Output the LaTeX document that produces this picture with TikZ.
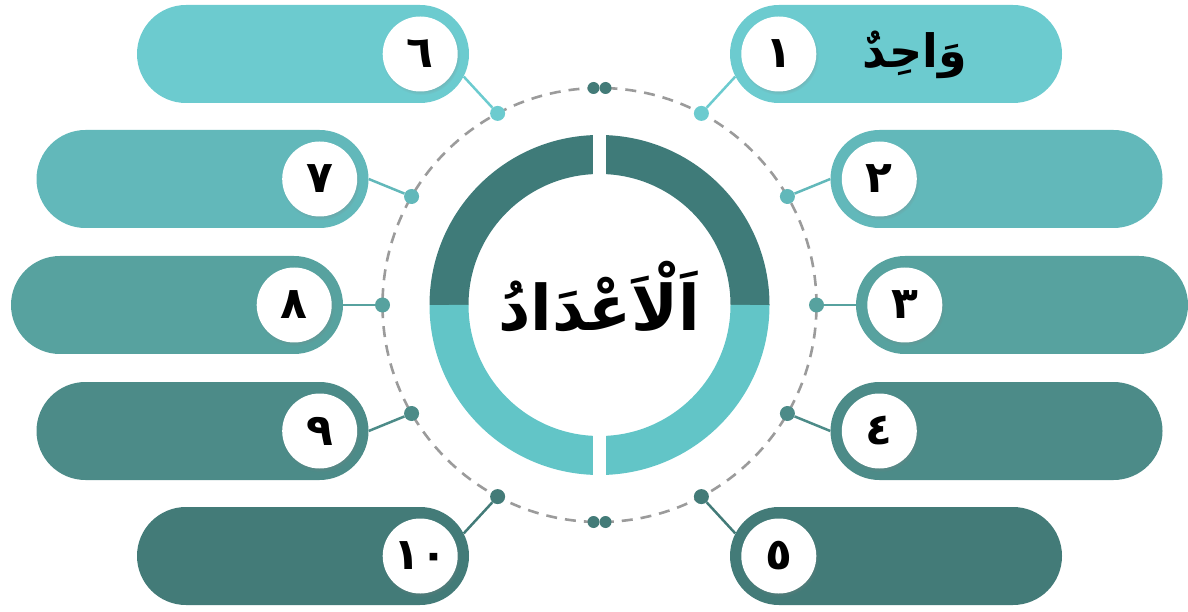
\documentclass[tikz,border=0pt]{standalone}
\usepackage{fontspec}
\usepackage{xcolor}
\usepackage{tikz}
\usetikzlibrary{shapes.misc,shadows}
\TeXXeTstate=1
\newfontfamily\arabicfont[Script=Arabic]{DejaVu Sans}
\definecolor{tealA}{HTML}{6CCBCF}
\definecolor{tealB}{HTML}{62B8BA}
\definecolor{tealC}{HTML}{57A29F}
\definecolor{tealD}{HTML}{4C8B88}
\definecolor{tealE}{HTML}{437B78}
\definecolor{ringdark}{HTML}{3F7B79}
\definecolor{ringlight}{HTML}{62C5C7}
\definecolor{dashgray}{HTML}{9B9B9B}
\tikzset{
  pill/.style={rounded rectangle,minimum width=332pt,minimum height=98pt,inner sep=0pt,fill=#1},
  numc/.style={circle,fill=white,minimum size=75pt,inner sep=0pt,font=\arabicfont\bfseries\fontsize{44}{44}\selectfont,
    circular drop shadow={shadow xshift=1pt,shadow yshift=-2pt,opacity=0.35,shadow scale=1.04}},
  dotc/.style={circle,fill=#1,minimum size=15pt,inner sep=0pt},
  link/.style={line width=2.5pt,draw=#1},
  orbit/.style={draw=dashgray,line width=2.6pt,dash pattern=on 11pt off 8pt},
  ring/.style={line width=39pt}
}
\newcommand{\artxt}[1]{{\arabicfont\bfseries\beginR #1\endR}}

\begin{document}
\begin{tikzpicture}[x=1pt,y=1pt]
\useasboundingbox (0,0) rectangle (1188,611);
\coordinate (c) at (599.5,306);
% orbit and centre ring
\draw[orbit] (c) circle[radius=217];
\draw[ring,ringdark] ([shift={(0:150.5)}]c) arc[start angle=0,end angle=180,radius=150.5];
\draw[ring,ringlight] ([shift={(180:150.5)}]c) arc[start angle=180,end angle=360,radius=150.5];
\fill[white] ([shift={(-6.5,-176)}]c) rectangle ([shift={(6.5,176)}]c);
\node (title) at ([yshift=8]c) {\fontsize{63}{66}\selectfont\artxt{اَلْاَعْدَادُ}};
\node[dotc=tealE,minimum size=12pt] (top1) at ([shift={(-6,217)}]c) {}; \node[dotc=tealE,minimum size=12pt] (top2) at ([shift={(6,217)}]c) {};
\node[dotc=tealE,minimum size=12pt] (bot1) at ([shift={(-6,-217)}]c) {}; \node[dotc=tealE,minimum size=12pt] (bot2) at ([shift={(6,-217)}]c) {};
% right side
\node[pill=tealA] (p1) at (896,557) {}; \node[numc] (n1) at ([xshift=49]p1.west) {١};
\node[pill=tealB] (p2) at (996.5,432) {}; \node[numc] (n2) at ([xshift=49]p2.west) {٢};
\node[pill=tealC] (p3) at (1022,306) {}; \node[numc] (n3) at ([xshift=49]p3.west) {٣};
\node[pill=tealD] (p4) at (996.5,180) {}; \node[numc] (n4) at ([xshift=49]p4.west) {٤};
\node[pill=tealE] (p5) at (896,55) {}; \node[numc] (n5) at ([xshift=49]p5.west) {٥};
\node (word1) at (915,556) {\fontsize{46}{48}\selectfont\artxt{وَاحِدٌ}};
% left side
\node[pill=tealA] (p6) at (303,557) {}; \node[numc] (n6) at ([xshift=-49]p6.east) {٦};
\node[pill=tealB] (p7) at (202.5,432) {}; \node[numc] (n7) at ([xshift=-49]p7.east) {٧};
\node[pill=tealC] (p8) at (177,306) {}; \node[numc] (n8) at ([xshift=-49]p8.east) {٨};
\node[pill=tealD] (p9) at (202.5,180) {}; \node[numc] (n9) at ([xshift=-49]p9.east) {٩};
\node[pill=tealE] (p10) at (303,55) {}; \node[numc] (n10) at ([xshift=-49]p10.east) {١٠};
% dots on the orbit
\node[dotc=tealA] (d1) at ([shift={(62:217)}]c) {}; \draw[link=tealA] (d1) -- (p1.188);
\node[dotc=tealB] (d2) at ([shift={(30:217)}]c) {}; \draw[link=tealB] (d2) -- (p2.west);
\node[dotc=tealC] (d3) at ([shift={(0:217)}]c) {}; \draw[link=tealC] (d3) -- (p3.west);
\node[dotc=tealD] (d4) at ([shift={(-30:217)}]c) {}; \draw[link=tealD] (d4) -- (p4.west);
\node[dotc=tealE] (d5) at ([shift={(-62:217)}]c) {}; \draw[link=tealE] (d5) -- (p5.172);
\node[dotc=tealA] (d6) at ([shift={(118:217)}]c) {}; \draw[link=tealA] (d6) -- (p6.352);
\node[dotc=tealB] (d7) at ([shift={(150:217)}]c) {}; \draw[link=tealB] (d7) -- (p7.east);
\node[dotc=tealC] (d8) at ([shift={(180:217)}]c) {}; \draw[link=tealC] (d8) -- (p8.east);
\node[dotc=tealD] (d9) at ([shift={(210:217)}]c) {}; \draw[link=tealD] (d9) -- (p9.east);
\node[dotc=tealE] (d10) at ([shift={(242:217)}]c) {}; \draw[link=tealE] (d10) -- (p10.8);
\end{tikzpicture}
\end{document}
